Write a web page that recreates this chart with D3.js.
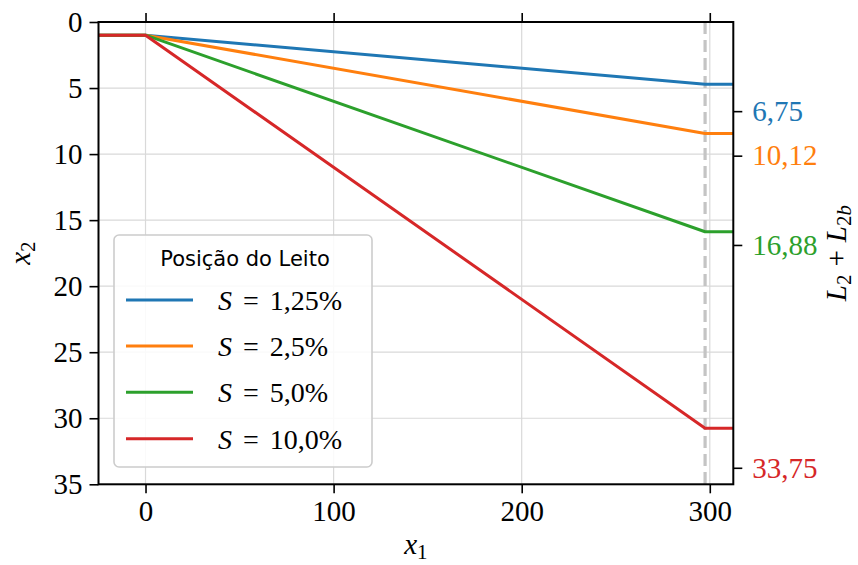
<!DOCTYPE html>
<html>
<head>
<meta charset="utf-8">
<script src="https://cdn.jsdelivr.net/npm/d3@7"></script>
<style>
  html, body { margin: 0; padding: 0; background: #fff; }
  svg { display: block; }
</style>
</head>
<body>
<svg id="chart" width="858" height="565"></svg>
<script>
// Bed position profiles: x1 breakpoints and x2 depth for each slope
const xBreaks = [-25, 0, 297.5, 312.5];
const seriesLabels = ["1,25%", "2,5%", "5,0%", "10,0%"];
const seriesColors = ["#1f77b4", "#ff7f0e", "#2ca02c", "#d62728"];
const seriesS125 = [1, 1, 4.72, 4.72];
const seriesS250 = [1, 1, 8.44, 8.44];
const seriesS500 = [1, 1, 15.88, 15.88];
const seriesS1000 = [1, 1, 30.75, 30.75];
const seriesValues = [seriesS125, seriesS250, seriesS500, seriesS1000];

// Reference marker position and right-hand axis values (L2 + L2b)
const dashedX = 297.5;
const rightTicks = [6.75, 10.12, 16.88, 33.75];
const rightTickLabels = ["6,75", "10,12", "16,88", "33,75"];

const xTicks = [0, 100, 200, 300];
const yTicks = [0, 5, 10, 15, 20, 25, 30, 35];

const SERIF = "'Liberation Serif', 'Times New Roman', serif";
const SANS = "'DejaVu Sans', sans-serif";

const svg = d3.select("#chart");
const plotLeft = 98.5, plotRight = 733.3, plotTop = 22, plotBottom = 484.3;

const x = d3.scaleLinear().domain([-25, 312.5]).range([plotLeft, plotRight]);
const y = d3.scaleLinear().domain([0, 35]).range([plotTop, plotBottom]);

// grid
const grid = svg.append("g");
grid.selectAll(".gx").data(xTicks).join("line")
  .attr("x1", d => x(d)).attr("x2", d => x(d))
  .attr("y1", plotTop).attr("y2", plotBottom)
  .attr("stroke", "#d9d9d9").attr("stroke-width", 1.2);
grid.selectAll(".gy").data(yTicks).join("line")
  .attr("y1", d => y(d)).attr("y2", d => y(d))
  .attr("x1", plotLeft).attr("x2", plotRight)
  .attr("stroke", "#d9d9d9").attr("stroke-width", 1.2);

// dashed marker
svg.append("line")
  .attr("x1", x(dashedX)).attr("x2", x(dashedX))
  .attr("y1", plotTop).attr("y2", plotBottom)
  .attr("stroke", "#c4c4c4").attr("stroke-width", 3.2)
  .attr("stroke-dasharray", "12,6");

// series lines
const line = d3.line().x((d, i) => x(xBreaks[i])).y(d => y(d));
const plot = svg.append("g");
seriesValues.forEach((vals, k) => {
  plot.append("path")
    .datum(vals)
    .attr("d", line)
    .attr("fill", "none")
    .attr("stroke", seriesColors[k])
    .attr("stroke-width", 3)
    .attr("stroke-linejoin", "round");
});

// axes
const tickFont = 29;
const axLeft = svg.append("g").attr("transform", `translate(${plotLeft},0)`)
  .call(d3.axisLeft(y).tickValues(yTicks).tickSize(9).tickPadding(7).tickFormat(d3.format("d")));
const axBottom = svg.append("g").attr("transform", `translate(0,${plotBottom})`)
  .call(d3.axisBottom(x).tickValues(xTicks).tickSize(9).tickPadding(7).tickFormat(d3.format("d")));
const axTop = svg.append("g").attr("transform", `translate(0,${plotTop})`)
  .call(d3.axisTop(x).tickValues(xTicks).tickSize(9).tickFormat(""));
const axRight = svg.append("g").attr("transform", `translate(${plotRight},0)`)
  .call(d3.axisRight(y).tickValues(rightTicks).tickSize(9).tickPadding(10)
    .tickFormat((d, i) => rightTickLabels[i]));

[axLeft, axBottom, axTop, axRight].forEach(g => {
  g.attr("font-family", SERIF).attr("font-size", tickFont);
  g.select(".domain").remove();
  g.selectAll(".tick line").attr("stroke", "#000").attr("stroke-width", 1.6);
  g.selectAll("text").style("font-family", SERIF).style("font-size", tickFont + "px").attr("fill", "#000");
});
axRight.selectAll("text").attr("fill", (d, i) => seriesColors[i]);

// frame
svg.append("rect")
  .attr("x", plotLeft).attr("y", plotTop)
  .attr("width", plotRight - plotLeft).attr("height", plotBottom - plotTop)
  .attr("fill", "none").attr("stroke", "#000").attr("stroke-width", 2);

// axis labels
function mathText(sel) {
  return sel.style("font-family", SERIF).style("font-size", "29px").attr("fill", "#000");
}
const xl = mathText(svg.append("text"))
  .attr("x", (plotLeft + plotRight) / 2).attr("y", 554)
  .attr("text-anchor", "middle");
xl.append("tspan").attr("font-style", "italic").text("x");
xl.append("tspan").style("font-size", "21px").attr("dy", 5).text("1");

const yl = mathText(svg.append("text"))
  .attr("transform", `translate(30,${(plotTop + plotBottom) / 2}) rotate(-90)`)
  .attr("text-anchor", "middle");
yl.append("tspan").attr("font-style", "italic").text("x");
yl.append("tspan").style("font-size", "21px").attr("dy", 5).text("2");

const rl = mathText(svg.append("text"))
  .attr("transform", `translate(846,${(plotTop + plotBottom) / 2}) rotate(-90)`)
  .attr("text-anchor", "middle");
rl.append("tspan").attr("font-style", "italic").text("L");
rl.append("tspan").style("font-size", "21px").attr("dy", 5).text("2");
rl.append("tspan").attr("dy", -5).attr("dx", 8).text("+");
rl.append("tspan").attr("dx", 8).attr("font-style", "italic").text("L");
rl.append("tspan").style("font-size", "21px").attr("dy", 5).text("2");
rl.append("tspan").style("font-size", "21px").attr("font-style", "italic").text("b");

// legend
const lg = svg.append("g");
lg.append("rect")
  .attr("x", 114).attr("y", 235).attr("width", 258).attr("height", 232)
  .attr("rx", 5).attr("fill", "#fff").attr("fill-opacity", 0.85)
  .attr("stroke", "#cccccc").attr("stroke-width", 1.6);
lg.append("text")
  .attr("x", 245).attr("y", 266)
  .attr("text-anchor", "middle")
  .style("font-family", SANS)
  .style("font-size", "21px")
  .text("Posição do Leito");
const rowY = [300, 346, 392.3, 438.7];
seriesLabels.forEach((lab, k) => {
  lg.append("line")
    .attr("x1", 126).attr("x2", 193)
    .attr("y1", rowY[k]).attr("y2", rowY[k])
    .attr("stroke", seriesColors[k]).attr("stroke-width", 3);
  const t = lg.append("text")
    .style("font-family", SERIF).style("font-size", "28px")
    .attr("x", 218).attr("y", rowY[k] + 10);
  t.append("tspan").attr("font-style", "italic").text("S");
  t.append("tspan").attr("dx", 11).text("=");
  t.append("tspan").attr("dx", 11).text(lab);
});
</script>
</body>
</html>
